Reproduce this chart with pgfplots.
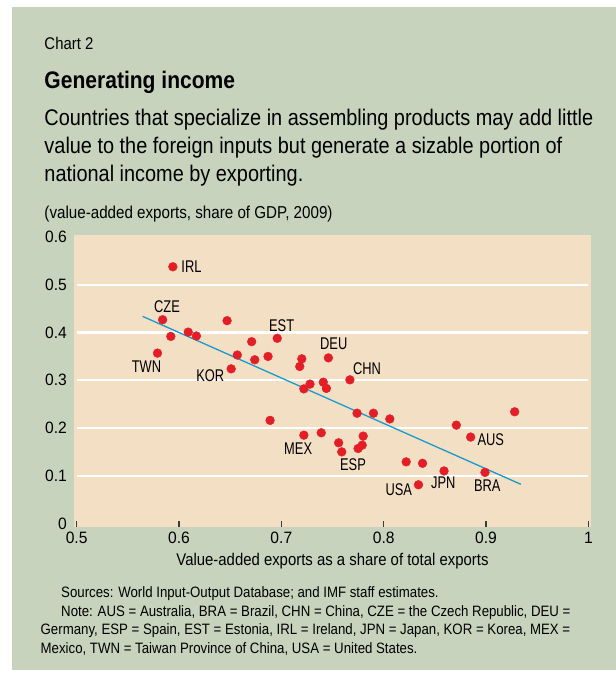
\documentclass[border=0pt]{standalone}
\usepackage{fontspec}
\setmainfont{Liberation Sans}[FakeStretch=0.88]
\newfontfamily\tickfont{Liberation Sans}[FakeStretch=0.95]
\newfontfamily\labfont{Liberation Sans}[FakeStretch=0.76]
\usepackage{pgfplots}
\pgfplotsset{compat=1.18}
\definecolor{bggreen}{RGB}{199,211,188}
\definecolor{plotbg}{RGB}{243,223,196}
\definecolor{dotred}{RGB}{228,30,38}
\definecolor{lineblue}{RGB}{27,154,208}
\definecolor{tickgray}{RGB}{60,60,60}
\begin{document}
\begin{tikzpicture}[x=1bp,y=1bp,
  lab/.style={font=\labfont\fontsize{17}{19}\selectfont, inner sep=0pt, text=black},
  hd/.style={anchor=base west, inner sep=0pt, text=black}]
\fill[white] (0,0) rectangle (616,673);
\fill[bggreen] (12,3) rectangle (616,666.3);
\coordinate (axpos) at (74,146.3);
\node[hd, font=\fontsize{17}{20}\selectfont] at (44.3,623) {Chart 2};
\node[hd, font=\bfseries\fontsize{24}{28}\selectfont] at (44.3,584) {Generating income};
\node[hd, font=\fontsize{22.7}{27}\selectfont] at (44.3,547) {Countries that specialize in assembling products may add little};
\node[hd, font=\fontsize{22.7}{27}\selectfont] at (44.3,519) {value to the foreign inputs but generate a sizable portion of};
\node[hd, font=\fontsize{22.7}{27}\selectfont] at (44.3,491) {national income by exporting.};
\node[hd, font=\fontsize{17.3}{20}\selectfont] at (44.3,454) {(value-added exports, share of GDP, 2009)};
\node[hd, font=\fontsize{15.1}{17}\selectfont] at (61,75) {Sources: World Input-Output Database; and IMF staff estimates.};
\node[hd, font=\fontsize{15.1}{17}\selectfont] at (61,56.5) {Note: AUS = Australia, BRA = Brazil, CHN = China, CZE = the Czech Republic, DEU =};
\node[hd, font=\fontsize{15.1}{17}\selectfont] at (40.5,38) {Germany, ESP = Spain, EST = Estonia, IRL = Ireland, JPN = Japan, KOR = Korea, MEX =};
\node[hd, font=\fontsize{15.1}{17}\selectfont] at (40.5,19.5) {Mexico, TWN = Taiwan Province of China, USA = United States.};
\begin{axis}[
  at={(axpos)}, anchor=south west, scale only axis,
  width=517bp, height=291.7bp,
  xmin=0.4974, xmax=1.0026, ymin=-0.0069, ymax=0.6046,
  axis background/.style={fill=plotbg},
  axis line style={draw=none},
  xtick={0.5,0.6,0.7,0.8,0.9,1}, xticklabels={0.5,0.6,0.7,0.8,0.9,1},
  ytick={0,0.1,0.2,0.3,0.4,0.5,0.6}, yticklabels={0,0.1,0.2,0.3,0.4,0.5,0.6},
  tick align=inside, xtick pos=left, ytick pos=left,
  major tick length=6bp,
  xtick style={draw=tickgray, line width=1.2bp},
  ytick style={draw=none},
  xticklabel style={font=\tickfont\fontsize{16.5}{18}\selectfont, anchor=north, inner sep=0pt, yshift=-5bp},
  yticklabel style={font=\tickfont\fontsize{16.5}{18}\selectfont, anchor=east, inner sep=0pt, xshift=-7bp},
  xlabel={Value-added exports as a share of total exports},
  xlabel style={font=\fontsize{17}{20}\selectfont, anchor=north, inner sep=0pt, at={(axis description cs:0.5,0)}, yshift=-26.6bp},
  clip=false,
]
\draw[white, line width=2.2bp] (axis cs:0.5,0.1) -- (axis cs:1,0.1);
\draw[white, line width=2.2bp] (axis cs:0.5,0.2) -- (axis cs:1,0.2);
\draw[white, line width=2.2bp] (axis cs:0.5,0.3) -- (axis cs:1,0.3);
\draw[white, line width=2.2bp] (axis cs:0.5,0.4) -- (axis cs:1,0.4);
\draw[white, line width=2.2bp] (axis cs:0.5,0.5) -- (axis cs:1,0.5);
\addplot[lineblue, line width=1.3bp, no marks] coordinates {(0.5645,0.434) (0.934,0.082)};
\addplot[only marks, mark=*, mark size=4.4bp, mark options={fill=dotred, draw=dotred}] coordinates {
(0.594,0.538) (0.584,0.427) (0.592,0.392) (0.579,0.357) (0.609,0.401)
(0.617,0.393) (0.647,0.425) (0.657,0.353) (0.651,0.324) (0.671,0.381)
(0.674,0.343) (0.687,0.350) (0.696,0.388) (0.720,0.345) (0.718,0.329)
(0.746,0.347) (0.767,0.301) (0.728,0.292) (0.722,0.282) (0.741,0.296)
(0.744,0.283) (0.689,0.216) (0.774,0.231) (0.790,0.231) (0.806,0.219)
(0.722,0.185) (0.739,0.190) (0.756,0.169) (0.759,0.150) (0.780,0.183)
(0.779,0.164) (0.775,0.157) (0.928,0.234) (0.871,0.206) (0.885,0.181)
(0.822,0.129) (0.838,0.126) (0.859,0.110) (0.834,0.081) (0.899,0.107)
};
\node[lab, anchor=west, xshift=8.4bp] at (axis cs:0.594,0.538) {IRL};
\node[lab, anchor=south, xshift=4.4bp, yshift=6.4bp] at (axis cs:0.584,0.427) {CZE};
\node[lab, anchor=north, xshift=-11bp, yshift=-7.7bp] at (axis cs:0.579,0.357) {TWN};
\node[lab, anchor=east, xshift=-6.7bp, yshift=-7.1bp] at (axis cs:0.651,0.324) {KOR};
\node[lab, anchor=south, xshift=4.4bp, yshift=6bp] at (axis cs:0.696,0.388) {EST};
\node[lab, anchor=south, xshift=5.3bp, yshift=7.7bp] at (axis cs:0.746,0.347) {DEU};
\node[lab, anchor=south west, xshift=3bp, yshift=5bp] at (axis cs:0.767,0.301) {CHN};
\node[lab, anchor=north, xshift=-5.7bp, yshift=-7bp] at (axis cs:0.722,0.185) {MEX};
\node[lab, anchor=north, xshift=11.3bp, yshift=-6.3bp] at (axis cs:0.759,0.150) {ESP};
\node[lab, anchor=west, xshift=6.7bp, yshift=-2.2bp] at (axis cs:0.885,0.181) {AUS};
\node[lab, anchor=east, xshift=-6.3bp, yshift=-4.8bp] at (axis cs:0.834,0.081) {USA};
\node[lab, anchor=north, xshift=-0.7bp, yshift=-6bp] at (axis cs:0.859,0.110) {JPN};
\node[lab, anchor=north, xshift=2.3bp, yshift=-7.7bp] at (axis cs:0.899,0.107) {BRA};
\end{axis}
\end{tikzpicture}
\end{document}
